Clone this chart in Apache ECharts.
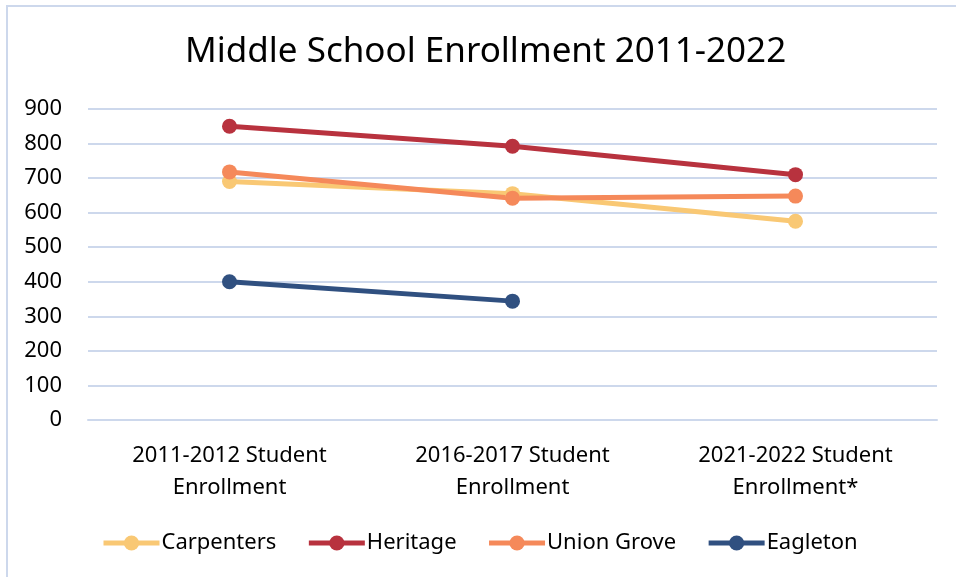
<!DOCTYPE html>
<html>
<head>
<meta charset="utf-8">
<script src="https://cdn.jsdelivr.net/npm/echarts@6/dist/echarts.min.js"></script>
<style>
  html, body { margin: 0; padding: 0; background: #fff; }
  #frame { position: absolute; left: 6px; top: 5px; width: 1000px; height: 700px; border: 2px solid #cdd8ec; box-sizing: border-box; }
  #chart { position: absolute; left: 0; top: 0; width: 956px; height: 577px; }
</style>
</head>
<body>
<div id="frame"></div>
<div id="chart"></div>
<script>
var categories = ['2011-2012 Student\nEnrollment', '2016-2017 Student\nEnrollment', '2021-2022 Student\nEnrollment*'];
var carpenters = [690, 655, 575];
var heritage = [850, 792, 710];
var unionGrove = [718, 642, 648];
var eagleton = [400, 344, null];
var yTicks = { min: 0, max: 900, step: 100 };

var myChart = echarts.init(document.getElementById('chart'));

function line(name, data, color) {
	return {
		name: name,
		type: 'line',
		data: data,
		symbol: 'circle',
		symbolSize: 15,
		lineStyle: { width: 5, color: color },
		itemStyle: { color: color },
		connectNulls: false
	};
}

var option = {
	animation: false,
	textStyle: { fontFamily: 'Noto Sans' },
	title: {
		text: 'Middle School Enrollment 2011-2022',
		left: 180,
		top: 30,
		textStyle: { fontSize: 35, fontWeight: 'normal', color: '#000', fontFamily: 'Noto Sans' }
	},
	legend: {
		bottom: 18,
		left: 96,
		itemWidth: 56,
		itemHeight: 19,
		itemGap: 30,
		lineStyle: { width: 5 },
		textStyle: { fontSize: 22, color: '#000', padding: [0, 0, 0, -3] },
		data: ['Carpenters', 'Heritage', 'Union Grove', 'Eagleton']
	},
	grid: { left: 88, right: 19, top: 109, bottom: 157, containLabel: false },
	xAxis: {
		type: 'category',
		data: categories,
		boundaryGap: true,
		axisLine: { lineStyle: { color: '#cdd8ec', width: 2 } },
		axisTick: { show: false },
		axisLabel: { fontSize: 22, color: '#000', lineHeight: 32, margin: 20, interval: 0 }
	},
	yAxis: {
		type: 'value',
		min: yTicks.min,
		max: yTicks.max,
		interval: yTicks.step,
		axisLine: { show: false },
		axisTick: { show: false },
		axisLabel: { fontSize: 22, color: '#000', margin: 26 },
		splitLine: { lineStyle: { color: '#cdd8ec', width: 2 } }
	},
	series: [
		line('Carpenters', carpenters, '#f9c874'),
		line('Heritage', heritage, '#b8323e'),
		line('Union Grove', unionGrove, '#f5895a'),
		line('Eagleton', eagleton, '#305080')
	]
};
myChart.setOption(option);
</script>
</body>
</html>
